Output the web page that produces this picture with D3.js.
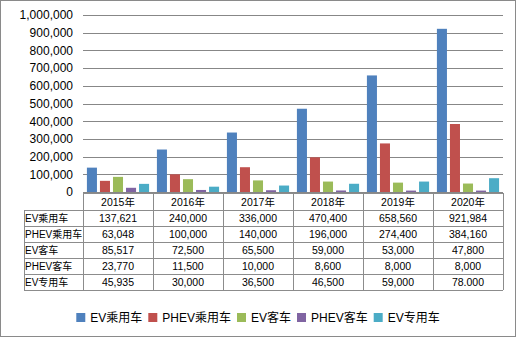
<!DOCTYPE html>
<html><head><meta charset="utf-8">
<script src="https://cdn.jsdelivr.net/npm/d3@7/dist/d3.min.js"></script>
<style>
html,body{margin:0;padding:0;background:#fff;}
svg{display:block;}
text{font-family:"Liberation Sans","Noto Sans CJK SC",Arial,sans-serif;fill:#000;}
</style></head>
<body><svg id="c" width="518" height="339"></svg>
<script>
const years = ["2015年","2016年","2017年","2018年","2019年","2020年"];
const seriesNames = ["EV乘用车","PHEV乘用车","EV客车","PHEV客车","EV专用车"];
const evPassenger   = [137621, 240000, 336000, 470400, 658560, 921984];
const phevPassenger = [63048, 100000, 140000, 196000, 274400, 384160];
const evBus         = [85517, 72500, 65500, 59000, 53000, 47800];
const phevBus       = [23770, 11500, 10000, 8600, 8000, 8000];
const evSpecial     = [45935, 30000, 36500, 46500, 59000, 78000];
const tableLabels   = ["137,621","240,000","336,000","470,400","658,560","921,984",
                       "63,048","100,000","140,000","196,000","274,400","384,160",
                       "85,517","72,500","65,500","59,000","53,000","47,800",
                       "23,770","11,500","10,000","8,600","8,000","8,000",
                       "45,935","30,000","36,500","46,500","59,000","78.000"];
const yTicks = [0,100000,200000,300000,400000,500000,600000,700000,800000,900000,1000000];
const colors = ["#4F81BD","#C0504D","#9BBB59","#8064A2","#4BACC6"];

const seriesValues = [evPassenger, phevPassenger, evBus, phevBus, evSpecial];
const svg = d3.select("#c");

svg.append("rect").attr("x",0.5).attr("y",0.5).attr("width",515).attr("height",336)
  .attr("fill","#fff").attr("stroke","#8a8a8a").attr("stroke-width",1);

const plotL = 83, plotR = 503, plotT = 15, plotB = 192;
const x0 = d3.scaleBand().domain(years).range([plotL, plotR]).padding(0);
const x1 = d3.scaleBand().domain(seriesNames).range([0, x0.bandwidth()]).paddingInner(0.23).paddingOuter(0.3);
const y = d3.scaleLinear().domain([0, 1000000]).range([plotB, plotT]);

const fmt = d3.format(",");
const yAxis = d3.axisLeft(y).tickValues(yTicks).tickFormat(fmt).tickSize(-(plotR-plotL)).tickPadding(10);
const ga = svg.append("g").attr("transform",`translate(${plotL},0)`).call(yAxis);
ga.select(".domain").remove();
ga.selectAll(".tick line").attr("stroke","#878787").attr("shape-rendering","crispEdges");
ga.selectAll(".tick text").attr("font-size",12).attr("fill","#000")
  .style("font-family",'"Liberation Sans",Arial,sans-serif');

const groups = svg.append("g").selectAll("g").data(years).join("g")
  .attr("transform", d => `translate(${x0(d)},0)`);
groups.selectAll("rect").data((d,i) => seriesNames.map((s,j) => ({s, v: seriesValues[j][i], j})))
  .join("rect")
  .attr("x", d => x1(d.s)).attr("width", x1.bandwidth())
  .attr("y", d => y(d.v)).attr("height", d => plotB - y(d.v))
  .attr("fill", d => colors[d.j]);

const tTop = 193, headH = 17, rowH = 16, labL = 24;
const tg = svg.append("g").attr("shape-rendering","crispEdges");
const lineC = "#8c8c8c";
const tBot = tTop + headH + rowH*5;
tg.append("line").attr("x1",plotL).attr("x2",plotR).attr("y1",tTop+0.5).attr("y2",tTop+0.5).attr("stroke",lineC);
for (let r=0;r<=5;r++){
  const yy = tTop+headH+rowH*r+0.5;
  tg.append("line").attr("x1",labL).attr("x2",plotR).attr("y1",yy).attr("y2",yy).attr("stroke",lineC);
}
tg.append("line").attr("x1",labL+0.5).attr("x2",labL+0.5).attr("y1",tTop+headH).attr("y2",tBot).attr("stroke",lineC);
years.forEach(yr => {
  const xx = Math.round(x0(yr))+0.5;
  tg.append("line").attr("x1",xx).attr("x2",xx).attr("y1",tTop).attr("y2",tBot).attr("stroke",lineC);
});
tg.append("line").attr("x1",plotR+0.5).attr("x2",plotR+0.5).attr("y1",tTop).attr("y2",tBot).attr("stroke",lineC);

svg.append("g").selectAll("text").data(years).join("text")
  .attr("x", d => x0(d)+x0.bandwidth()/2).attr("y", tTop+headH/2+4)
  .attr("text-anchor","middle").attr("font-size",10.5).text(d => d);
svg.append("g").selectAll("text").data(seriesNames).join("text")
  .attr("x", labL+1).attr("y", (d,i) => tTop+headH+rowH*i+rowH/2+4)
  .attr("font-size",10).text(d => d);
const cells = [];
seriesNames.forEach((s,i) => years.forEach((yr,k) => cells.push({i,yr,t:tableLabels[i*6+k]})));
svg.append("g").selectAll("text").data(cells).join("text")
  .attr("x", d => x0(d.yr)+x0.bandwidth()/2).attr("y", d => tTop+headH+rowH*d.i+rowH/2+4)
  .attr("text-anchor","middle").attr("font-size",10.5).text(d => d.t);

const lg = svg.append("g");
const items = lg.selectAll("g").data(seriesNames).join("g");
items.append("rect").attr("width",9).attr("height",9).attr("y",-9).attr("fill",(d,i)=>colors[i]);
items.append("text").attr("x",14).attr("y",0).attr("font-size",12).text(d=>d);
let cx = 0;
items.each(function(){
  const g = d3.select(this);
  const w = 14 + g.select("text").node().getComputedTextLength();
  g.attr("transform",`translate(${cx},0)`);
  cx += w + 6;
});
const totalW = cx - 6;
lg.attr("transform",`translate(${258 - totalW/2},322)`);
</script></body></html>
